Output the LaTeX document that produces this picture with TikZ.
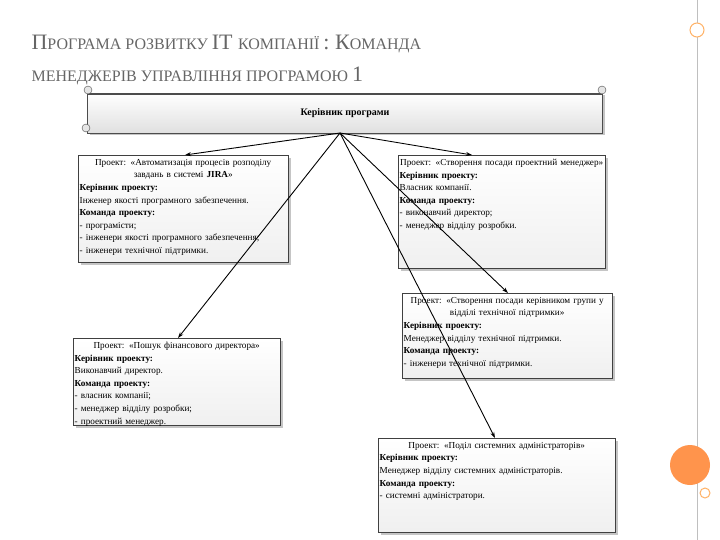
\documentclass[tikz,border=0pt]{standalone}
\usepackage{fontspec}
\setmainfont{Liberation Serif}
\usetikzlibrary{shadows,arrows.meta}
\begin{document}
\begin{tikzpicture}[x=1pt,y=-1pt,
  frame/.style={draw=black!75,line width=0.5pt,top color=white,bottom color=black!6,
    drop shadow={shadow xshift=2.5pt,shadow yshift=-2.5pt,fill=black!45},
    inner sep=0,anchor=north west},
  txt/.style={inner xsep=1.5pt,inner ysep=4pt,anchor=north west,font=\fontsize{9.2}{12.6}\selectfont},
  conn/.style={-{Stealth[length=6pt,width=4pt]},line width=0.9pt},
  ttl/.style={text=black!60,anchor=west,font=\fontsize{22}{22}\selectfont}]
\useasboundingbox (0,0) rectangle (720,540);
\fill[white] (0,0) rectangle (720,540);
% decoration
\draw[black!25,line width=0.8pt] (697,0) -- (697,540);
\node[circle,draw=orange!60,fill=white,line width=1pt,minimum size=14pt,inner sep=0] (c1) at (697,30) {};
\node[circle,fill=orange!80!red!70,minimum size=40pt,inner sep=0] (c2) at (690,465) {};
\node[circle,draw=orange!60,fill=white,line width=1pt,minimum size=10pt,inner sep=0] (c3) at (705,493) {};
% title
\node[ttl] (t1) at (28,44) {П\fontsize{16}{16}\selectfont РОГРАМА РОЗВИТКУ \fontsize{22}{22}\selectfont IT \fontsize{16}{16}\selectfont КОМПАНІЇ \fontsize{22}{22}\selectfont : К\fontsize{16}{16}\selectfont ОМАНДА};
\node[ttl] (t2) at (28,76) {\fontsize{16}{16}\selectfont МЕНЕДЖЕРІВ УПРАВЛІННЯ ПРОГРАМОЮ \fontsize{22}{22}\selectfont 1};
% banner
\node[draw=black!70,top color=white,bottom color=black!12,minimum width=515pt,minimum height=40pt,
  drop shadow={shadow xshift=2pt,shadow yshift=-2pt,fill=black!45},
  font=\fontsize{10}{11}\selectfont\bfseries] (b) at (345,113) {Керівник програми};
\draw[black!70,fill=black!10] (88,90) circle (4pt) (602,90) circle (4pt) (86,128) circle (4pt);
\draw[black!70] (88,94) -- (602,94);
% boxes
\node[frame,minimum width=210pt,minimum height=107pt] (p1) at (78,155) {};
\node[txt,text width=207pt] (p1t) at (p1.north west) {{\centering Проект: «Автоматизація процесів розподілу завдань в системі \textbf{JIRA}»\par}
\textbf{Керівник проекту:}\\ Інженер якості програмного забезпечення.\\ \textbf{Команда проекту:}\\ - програмісти;\\ - інженери якості програмного забезпечення;\\ - інженери технічної підтримки.};
\node[frame,minimum width=207pt,minimum height=113pt] (p2) at (398,155) {};
\node[txt,text width=204pt] (p2t) at (p2.north west) {{\centering Проект: «Створення посади проектний менеджер»\par}
\textbf{Керівник проекту:}\\ Власник компанії.\\ \textbf{Команда проекту:}\\ - виконавчий директор;\\ - менеджер відділу розробки.};
\node[frame,minimum width=210pt,minimum height=85pt] (p3) at (402,293) {};
\node[txt,text width=207pt] (p3t) at (p3.north west) {{\centering Проект: «Створення посади керівником групи у відділі технічної підтримки»\par}
\textbf{Керівник проекту:}\\ Менеджер відділу технічної підтримки.\\ \textbf{Команда проекту:}\\ - інженери технічної підтримки.};
\node[frame,minimum width=207pt,minimum height=87pt] (p4) at (73,338) {};
\node[txt,text width=204pt] (p4t) at (p4.north west) {{\centering Проект: «Пошук фінансового директора»\par}
\textbf{Керівник проекту:}\\ Виконавчий директор.\\ \textbf{Команда проекту:}\\ - власник компанії;\\ - менеджер відділу розробки;\\ - проектний менеджер.};
\node[frame,minimum width=237pt,minimum height=94pt] (p5) at (378,438) {};
\node[txt,text width=234pt] (p5t) at (p5.north west) {{\centering Проект: «Поділ системних адміністраторів»\par}
\textbf{Керівник проекту:}\\ Менеджер відділу системних адміністраторів.\\ \textbf{Команда проекту:}\\ - системні адміністратори.};
% connectors
\coordinate (o) at (340,133);
\draw[conn] (o) -- (p1.north west -| 185,0);
\draw[conn] (o) -- (p2.north west -| 472,0);
\draw[conn] (o) -- (p3.north west -| 508,0);
\draw[conn] (o) -- (p4.north west -| 178,0);
\draw[conn] (o) -- (p5.north west -| 495,0);
\end{tikzpicture}
\end{document}
